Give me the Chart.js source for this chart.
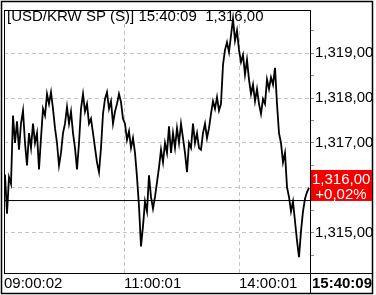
<!DOCTYPE html>
<html>
<head>
<meta charset="utf-8">
<script src="https://cdn.jsdelivr.net/npm/chart.js@4"></script>
<style>
  html, body { margin: 0; padding: 0; background: #fff; }
  #wrap { width: 376px; height: 295px; }
</style>
</head>
<body>
<div id="wrap"><canvas id="chart" width="376" height="295"></canvas></div>
<script>
// tick prices, one every ~2 px of the trading day
const prices = [
  1316.30, 1315.43, 1316.24, 1316.09, 1317.61, 1317.00, 1317.48, 1316.85, 1317.43, 1317.72,
  1317.00, 1316.50, 1317.22, 1316.89, 1317.43, 1317.00, 1317.22, 1316.41, 1317.11, 1317.76,
  1317.61, 1318.09, 1317.87, 1318.13, 1317.76, 1317.33, 1317.00, 1316.50, 1316.78, 1317.22,
  1317.43, 1317.80, 1317.43, 1317.70, 1317.22, 1316.89, 1316.41, 1317.00, 1317.76, 1318.09,
  1317.70, 1317.87, 1317.43, 1317.54, 1317.22, 1316.89, 1316.57, 1316.35, 1316.89, 1317.65,
  1317.98, 1318.13, 1317.76, 1317.93, 1317.43, 1317.70, 1317.87, 1318.09, 1317.91, 1317.54,
  1317.43, 1317.07, 1317.26, 1316.89, 1317.11, 1316.78, 1316.24, 1315.59, 1314.70, 1315.15,
  1315.70, 1315.48, 1316.28, 1315.80, 1315.54, 1315.80, 1316.13, 1316.46, 1316.85, 1316.57,
  1317.00, 1316.78, 1317.37, 1316.78, 1317.22, 1316.89, 1317.33, 1317.00, 1317.43, 1317.11,
  1316.78, 1316.35, 1317.00, 1316.89, 1317.43, 1317.00, 1317.22, 1316.89, 1316.85, 1317.22,
  1317.43, 1317.11, 1317.33, 1317.65, 1317.93, 1317.76, 1318.02, 1317.72, 1317.87, 1318.74,
  1319.07, 1319.24, 1319.02, 1319.39, 1319.76, 1319.28, 1319.50, 1319.07, 1318.80, 1318.96,
  1318.52, 1318.85, 1318.41, 1318.09, 1318.30, 1317.93, 1318.20, 1317.87, 1317.65, 1317.98,
  1317.87, 1318.41, 1318.20, 1318.46, 1318.30, 1318.67, 1317.87, 1317.22, 1317.00, 1316.57,
  1316.78, 1316.02, 1315.80, 1315.48, 1315.70, 1315.26, 1314.83, 1314.46, 1315.04, 1315.48,
  1315.76, 1315.91, 1316.00
];

const prevClose = 1315.72;
const lastPrice = 1316.00;
const changePct = "+0,02%";
const title = "[USD/KRW SP (S)] 15:40:09  1,316,00";
const lastTime = "15:40:09";

const timeLabels = ["09:00:02", "11:00:01", "14:00:01"];
const timeTicks = [-0.5, 59.5, 117];
const priceTicks = [1314.5, 1315, 1315.5, 1316, 1316.5, 1317, 1317.5, 1318, 1318.5, 1319, 1319.5];
const yMin = 1314.109, yMax = 1319.957;

const FONT = "Liberation Sans, Arial, sans-serif";

function fmtPrice(v) {
  let s = v.toFixed(2).replace(".", ",");
  let i = s.indexOf(",");
  if (i > 3) s = s.slice(0, i - 3) + "," + s.slice(i - 3);
  return s;
}

const xMin = -0.5, xMax = prices.length - 0.5;

const pricePts = prices.map((p, i) => ({ x: i, y: p }));
const prevPts = [{ x: xMin, y: prevClose }, { x: xMax, y: prevClose }];

// frame, title, last price box
const decor = {
  id: "decor",
  afterDraw(chart) {
    const ctx = chart.ctx;
    const a = chart.chartArea;
    const ys = chart.scales.y;
    ctx.save();
    ctx.strokeStyle = "#000";
    ctx.lineWidth = 1.5;
    ctx.strokeRect(1.5, 1.5, 371, 292);
    ctx.lineWidth = 1;
    ctx.strokeRect(a.left + 0.5, a.top + 0.5, a.right - a.left, a.bottom - a.top);
    ctx.beginPath();
    ctx.moveTo(a.right + 0.5, a.top);
    ctx.lineTo(a.right + 0.5, 293);
    ctx.moveTo(a.right, a.bottom + 0.5);
    ctx.lineTo(372, a.bottom + 0.5);
    ctx.stroke();

    ctx.fillStyle = "#000";
    ctx.font = "15px " + FONT;
    ctx.textBaseline = "alphabetic";
    ctx.textAlign = "left";
    ctx.fillText(title, 7, 21);

    ctx.font = "bold 15px " + FONT;
    ctx.fillText(lastTime, a.right + 2, 288);

    // red last price label
    const py = ys.getPixelForValue(lastPrice);
    ctx.fillStyle = "#f20000";
    ctx.fillRect(a.right + 1, py - 18, 372 - a.right - 1, 31);
    ctx.fillStyle = "#fff";
    ctx.font = "15px " + FONT;
    ctx.fillText(fmtPrice(lastPrice), a.right + 2, py - 4);
    ctx.textAlign = "center";
    ctx.fillText(changePct, (a.right + 372) / 2, py + 11);
    ctx.restore();
  }
};

const ctx = document.getElementById("chart").getContext("2d");
new Chart(ctx, {
  type: "line",
  data: {
    datasets: [
      {
        data: pricePts,
        borderColor: "#000",
        borderWidth: 1.8,
        pointRadius: 0,
        tension: 0
      },
      {
        data: prevPts,
        borderColor: "#000",
        borderWidth: 1,
        pointRadius: 0
      }
    ]
  },
  options: {
    responsive: false,
    animation: false,
    layout: { padding: { left: 4, top: 4, right: 4, bottom: 2 } },
    plugins: { legend: { display: false }, tooltip: { enabled: false } },
    scales: {
      x: {
        type: "linear",
        min: xMin,
        max: xMax,
        afterBuildTicks: s => { s.ticks = timeTicks.map(v => ({ value: v })); },
        afterFit: s => { s.height = 20; },
        border: { display: false, dash: [4, 3] },
        grid: {
          drawTicks: false,
          color: c => (c.tick && c.tick.value > xMin ? "#c4c4c4" : "rgba(0,0,0,0)")
        },
        ticks: {
          align: "start",
          padding: 2,
          color: "#000",
          font: { family: FONT, size: 15 },
          callback: (v) => timeLabels[timeTicks.indexOf(v)]
        }
      },
      y: {
        position: "right",
        min: yMin,
        max: yMax,
        afterBuildTicks: s => { s.ticks = priceTicks.map(v => ({ value: v })); },
        afterFit: s => { s.width = 62; },
        border: { display: false, dash: [4, 3] },
        grid: {
          tickLength: 4,
          color: c => (c.tick && Number.isInteger(c.tick.value) ? "#c4c4c4" : "rgba(0,0,0,0)"),
          tickColor: "#8a8a8a"
        },
        ticks: {
          padding: 1,
          color: "#000",
          font: { family: FONT, size: 15 },
          callback: v => (Number.isInteger(v) ? fmtPrice(v) : "")
        }
      }
    }
  },
  plugins: [decor]
});
</script>
</body>
</html>
